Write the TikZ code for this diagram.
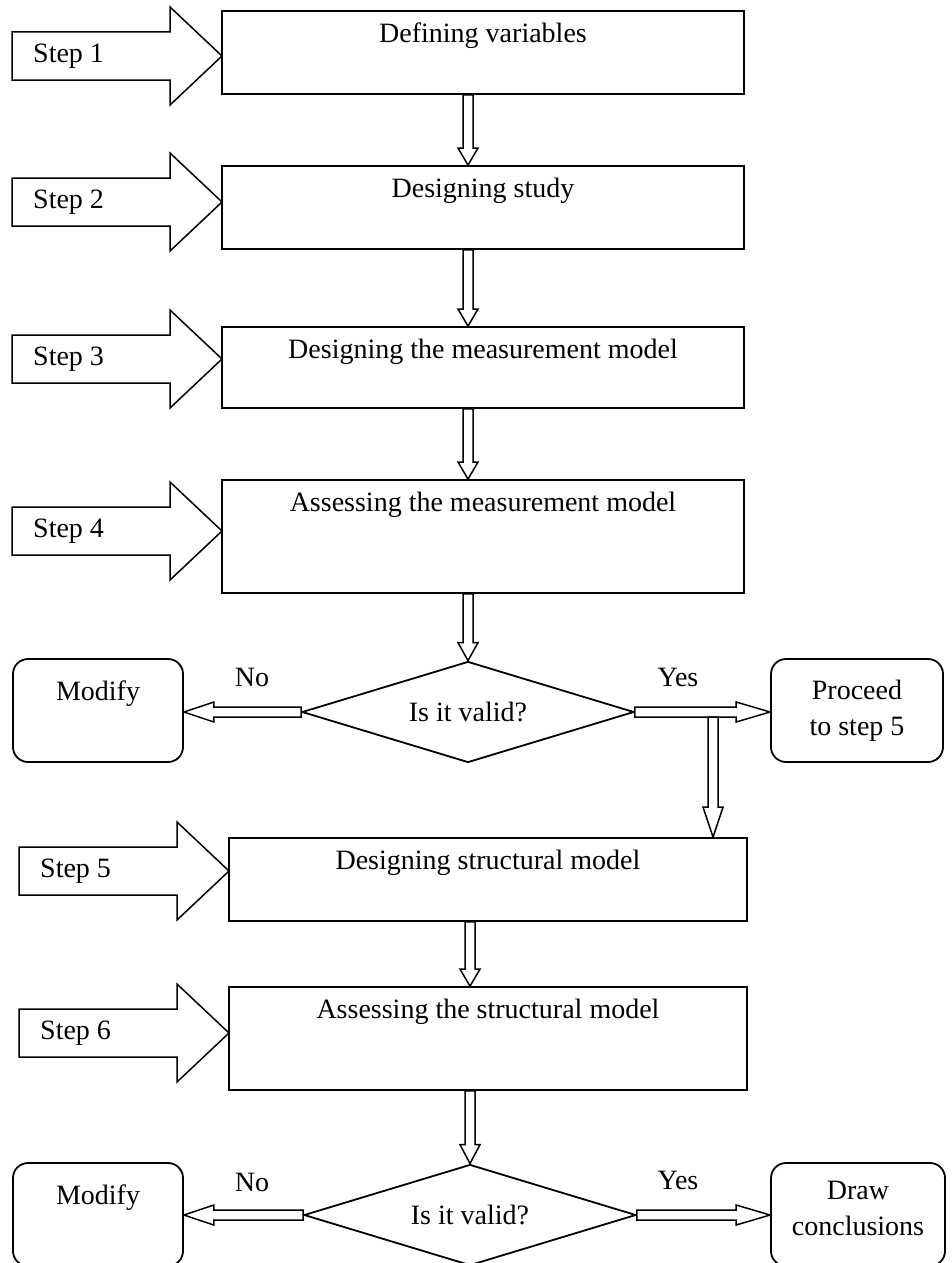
\documentclass[tikz,border=0pt]{standalone}
\usepackage{fontspec}
\setmainfont{Liberation Serif}
\usetikzlibrary{calc,shapes.geometric}

\tikzset{
  every node/.style={font=\fontsize{28}{36}\selectfont},
  procbox/.style={draw, line width=1.8pt, fill=white, inner sep=0pt, minimum width=522pt},
  roundbox/.style={draw, line width=1.8pt, rounded corners=15pt, fill=white, inner sep=0pt,
                   minimum width=170pt, minimum height=103pt},
  decision/.style={draw, diamond, line width=1.8pt, fill=white, inner sep=0pt, aspect=3.3,
                   minimum width=332pt, minimum height=101pt},
  blockline/.style={draw, line width=1.5pt, fill=white, line join=miter},
  stepshape/.style={draw, line width=1.5pt, fill=white, line join=miter},
  steplabel/.style={anchor=west, inner sep=0pt},
  boxtext/.style={inner sep=0pt, align=center},
  edgetext/.style={inner sep=0pt},
}

% hollow block arrow, horizontal: start, tip, signed head length
\newcommand\hblock[3]{%
  \draw[blockline] let \p1=(#1), \p2=(#2) in
    (\x1,\y1+5pt) -- (\x2+#3,\y1+5pt) -- (\x2+#3,\y1+10pt) -- (\x2,\y1)
    -- (\x2+#3,\y1-10pt) -- (\x2+#3,\y1-5pt) -- (\x1,\y1-5pt) -- cycle;}
% hollow block arrow, vertical (downwards): start, tip, head length
\newcommand\vblock[3]{%
  \draw[blockline] let \p1=(#1), \p2=(#2) in
    (\x1-5pt,\y1) -- (\x1-5pt,\y2+#3) -- (\x1-10pt,\y2+#3) -- (\x1,\y2)
    -- (\x1+10pt,\y2+#3) -- (\x1+5pt,\y2+#3) -- (\x1+5pt,\y1) -- cycle;}
% large step arrow pointing at a tip coordinate
\newcommand\steparrow[1]{%
  \draw[stepshape] (#1) -- ++(-52,-49) -- ++(0,25) -- ++(-158,0) -- ++(0,48)
    -- ++(158,0) -- ++(0,25) -- cycle;}

\begin{document}
\begin{tikzpicture}[x=1pt,y=-1pt]
\useasboundingbox (0,0) rectangle (952,1263);

% process boxes
\node[procbox, minimum height=83pt]  (b1) at (483,52.5) {};
\node[procbox, minimum height=83pt]  (b2) at (483,207.5) {};
\node[procbox, minimum height=81pt]  (b3) at (483,367.5) {};
\node[procbox, minimum height=113pt] (b4) at (483,536.5) {};
\node[procbox, minimum width=518pt, minimum height=83pt]  (b5) at (488,879.5) {};
\node[procbox, minimum width=518pt, minimum height=103pt] (b6) at (488,1038.5) {};

\node[boxtext] (b1t) at ($(b1.north)+(0,26)$) {Defining variables};
\node[boxtext] (b2t) at ($(b2.north)+(0,26)$) {Designing study};
\node[boxtext] (b3t) at ($(b3.north)+(0,26)$) {Designing the measurement model};
\node[boxtext] (b4t) at ($(b4.north)+(0,26)$) {Assessing the measurement model};
\node[boxtext] (b5t) at ($(b5.north)+(0,26)$) {Designing structural model};
\node[boxtext] (b6t) at ($(b6.north)+(0,26)$) {Assessing the structural model};

% decisions
\node[decision] (d1) at (468,712) {Is it valid?};
\node[decision] (d2) at (470,1215) {Is it valid?};

% outcome boxes
\node[roundbox] (m1) at (98,710.5) {};
\node[roundbox, minimum width=172pt] (p1) at (857,710.5) {};
\node[roundbox] (m2) at (98,1214.5) {};
\node[roundbox, minimum width=174pt] (c2) at (858,1214.5) {};

\node[boxtext] (m1t) at ($(m1.north)+(0,36)$) {Modify};
\node[boxtext] (p1t) at (p1) {Proceed\\to step 5};
\node[boxtext] (m2t) at ($(m2.north)+(0,36)$) {Modify};
\node[boxtext] (c2t) at (858,1208) {Draw\\conclusions};

% step arrows
\coordinate (t1) at (222,56);
\coordinate (t2) at (222,202);
\coordinate (t3) at (222,359);
\coordinate (t4) at (222,531);
\coordinate (t5) at (229,871);
\coordinate (t6) at (229,1033);
\foreach \t in {t1,t2,t3,t4,t5,t6} {\steparrow{\t}}
\node[steplabel] (s1) at ($(t1)+(-189,0)$) {Step 1};
\node[steplabel] (s2) at ($(t2)+(-189,0)$) {Step 2};
\node[steplabel] (s3) at ($(t3)+(-189,0)$) {Step 3};
\node[steplabel] (s4) at ($(t4)+(-189,0)$) {Step 4};
\node[steplabel] (s5) at ($(t5)+(-189,0)$) {Step 5};
\node[steplabel] (s6) at ($(t6)+(-189,0)$) {Step 6};

% flow between boxes
\vblock{b1.south -| d1.north}{b2.north -| d1.north}{17pt}
\vblock{b2.south -| d1.north}{b3.north -| d1.north}{17pt}
\vblock{b3.south -| d1.north}{b4.north -| d1.north}{17pt}
\vblock{b4.south -| d1.north}{d1.north}{18pt}
\vblock{b5.south -| d2.north}{b6.north -| d2.north}{17pt}
\vblock{b6.south -| d2.north}{d2.north}{19pt}

% decision branches
\hblock{d1.west}{m1.east}{30pt}
\hblock{d1.east}{p1.west}{-34pt}
\hblock{d2.west}{m2.east}{30pt}
\hblock{d2.east}{c2.west}{-34pt}
\coordinate (j1) at (713,717);
\vblock{j1}{j1 |- b5.north}{30pt}

\node[edgetext] (no1)  at (252,677)  {No};
\node[edgetext] (yes1) at (678,677)  {Yes};
\node[edgetext] (no2)  at (252,1182) {No};
\node[edgetext] (yes2) at (678,1180) {Yes};
\end{tikzpicture}
\end{document}
